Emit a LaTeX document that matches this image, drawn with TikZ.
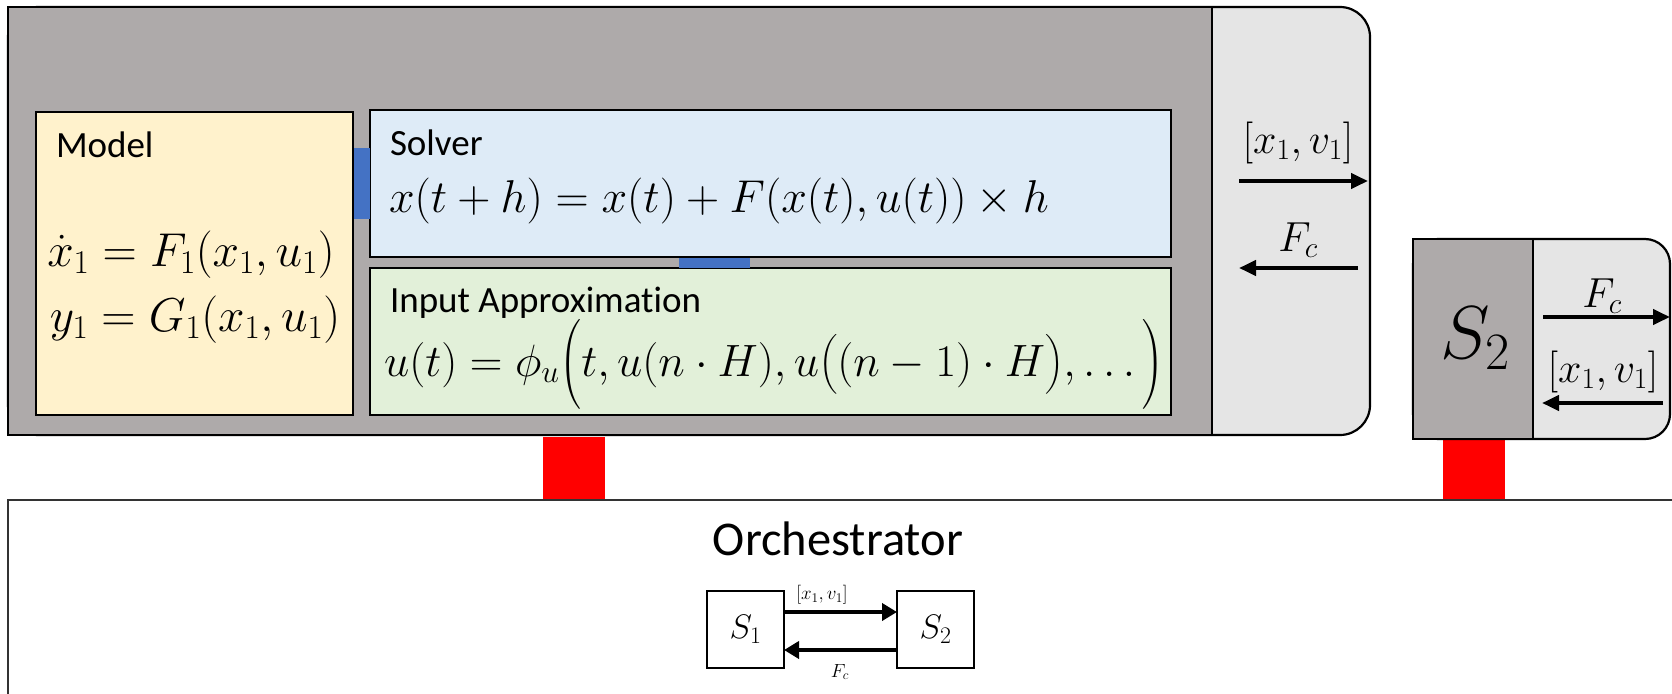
\RequirePackage{fix-cm}
\documentclass[tikz,border=0pt]{standalone}
\usepackage{amsmath}
\usepackage{exscale}
\usepackage{fontspec}
\setmainfont[Ligatures=NoCommon]{Carlito}
\usetikzlibrary{arrows.meta}
\definecolor{outergray}{HTML}{AEAAAA}
\definecolor{panelgray}{HTML}{E5E5E5}
\definecolor{modelfill}{HTML}{FFF2CC}
\definecolor{solverfill}{HTML}{DEEBF7}
\definecolor{inputfill}{HTML}{E2F0D9}
\definecolor{linkblue}{HTML}{4472C4}
\begin{document}
\begin{tikzpicture}[x=1pt,y=-1pt,
  every node/.style={inner sep=0pt, outer sep=0pt},
  blk/.style={draw=black, line width=2.2pt, anchor=north west},
  patch/.style={anchor=north west},
  title/.style={anchor=base west, font=\fontsize{37}{44}\selectfont},
  eqn/.style={font=\fontsize{46}{54}\selectfont},
  inputeqn/.style={font=\fontsize{45.3}{54}\selectfont},
  modeleqn/.style={font=\fontsize{47.5}{55}\selectfont, anchor=base},
  lbl/.style={font=\fontsize{42}{50}\selectfont},
  tiny/.style={font=\fontsize{19}{23}\selectfont},
  flow/.style={line width=4pt, -{Triangle[length=17pt,width=15pt]}},
  smallflow/.style={line width=4pt, -{Triangle[length=15pt,width=17pt]}}
]
\useasboundingbox (0,0) rectangle (1672,693);
\clip (0,0) rectangle (1672,693);

% red links to orchestrator
\node[patch, fill=red, minimum width=62pt, minimum height=64pt] (link1) at (543,437) {};
\node[patch, fill=red, minimum width=62pt, minimum height=62pt] (link2) at (1443,439) {};

% simulator 1
\node[blk, fill=panelgray, rounded corners=30pt, minimum width=1362pt, minimum height=428pt] (s1panel) at (8,7) {};
\node[blk, fill=outergray, minimum width=1204pt, minimum height=428pt] (s1body) at (8,7) {};

\node[blk, fill=modelfill, minimum width=317pt, minimum height=303pt] (model) at (36,112) {};
\node[blk, fill=solverfill, minimum width=801pt, minimum height=147pt] (solver) at (370,110) {};
\node[blk, fill=inputfill, minimum width=801pt, minimum height=147pt] (input) at (370,268) {};
\node[patch, fill=linkblue, minimum width=16pt, minimum height=71pt] (mslink) at (354,148) {};
\node[patch, fill=linkblue, minimum width=71pt, minimum height=10pt] (silink) at (679,258) {};

\node[title] (modeltitle) at (56,157) {Model};
\node[modeleqn] (modeleq1) at (191,266) {$\dot{x}_1 = F_1(x_1,u_1)$};
\node[modeleqn] (modeleq2) at (195,331) {$y_1 = G_1(x_1,u_1)$};
\node[title] (solvertitle) at (390,155) {Solver};
\node[eqn, anchor=base west] (solvereq) at (389,212) {$x(t+h) = x(t) + F(x(t),u(t)) \times h$};
\node[title] (inputtitle) at (390,312) {Input Approximation};
\node[inputeqn, anchor=base west] (inputeq) at (384,376) {$u(t) = \phi_u\Big(t, u(n\cdot H), u\big((n-1)\cdot H\big), \ldots\Big)$};

\node[lbl] (s1out) at (1298,143) {$[x_1,v_1]$};
\coordinate (s1outa) at (1239,181);
\coordinate (s1outb) at (1368,181);
\draw[flow] (s1outa) -- (s1outb);
\node[lbl] (s1in) at (1298,240) {$F_c$};
\coordinate (s1ina) at (1358,268);
\coordinate (s1inb) at (1239,268);
\draw[flow] (s1ina) -- (s1inb);

% simulator 2
\node[blk, fill=panelgray, rounded corners=25pt, minimum width=257pt, minimum height=200pt] (s2panel) at (1413,239) {};
\node[blk, fill=outergray, minimum width=120pt, minimum height=200pt] (s2body) at (1413,239) {};
\node[font=\fontsize{75}{82}\selectfont] (s2name) at (1475,338) {$S_2$};
\node[lbl] (s2in) at (1602,296) {$F_c$};
\coordinate (s2ina) at (1543,317);
\coordinate (s2inb) at (1670,317);
\draw[flow] (s2ina) -- (s2inb);
\node[lbl] (s2out) at (1603,372) {$[x_1,v_1]$};
\coordinate (s2outa) at (1663,403);
\coordinate (s2outb) at (1542,403);
\draw[flow] (s2outa) -- (s2outb);

% orchestrator
\node[blk, draw=black!80, fill=white, minimum width=1720pt, minimum height=260pt] (orch) at (8,500) {};
\node[font=\fontsize{48.5}{58}\selectfont, anchor=base] (orchtitle) at (838,555) {Orchestrator};
\node[blk, line width=2.5pt, minimum width=77pt, minimum height=77pt] (os1) at (707,591) {};
\node[blk, line width=2.5pt, minimum width=77pt, minimum height=77pt] (os2) at (897,591) {};
\node[font=\fontsize{34}{40}\selectfont] (os1name) at (os1.center) {$S_1$};
\node[font=\fontsize{34}{40}\selectfont] (os2name) at (os2.center) {$S_2$};
\draw[smallflow] ([yshift=17.5pt]os1.east) -- ([yshift=17.5pt]os2.west);
\draw[smallflow] ([yshift=-20.5pt]os2.west) -- ([yshift=-20.5pt]os1.east);
\node[tiny] (oslbl1) at (822,595) {$[x_1,v_1]$};
\node[tiny] (oslbl2) at (840,672) {$F_c$};
\end{tikzpicture}
\end{document}
